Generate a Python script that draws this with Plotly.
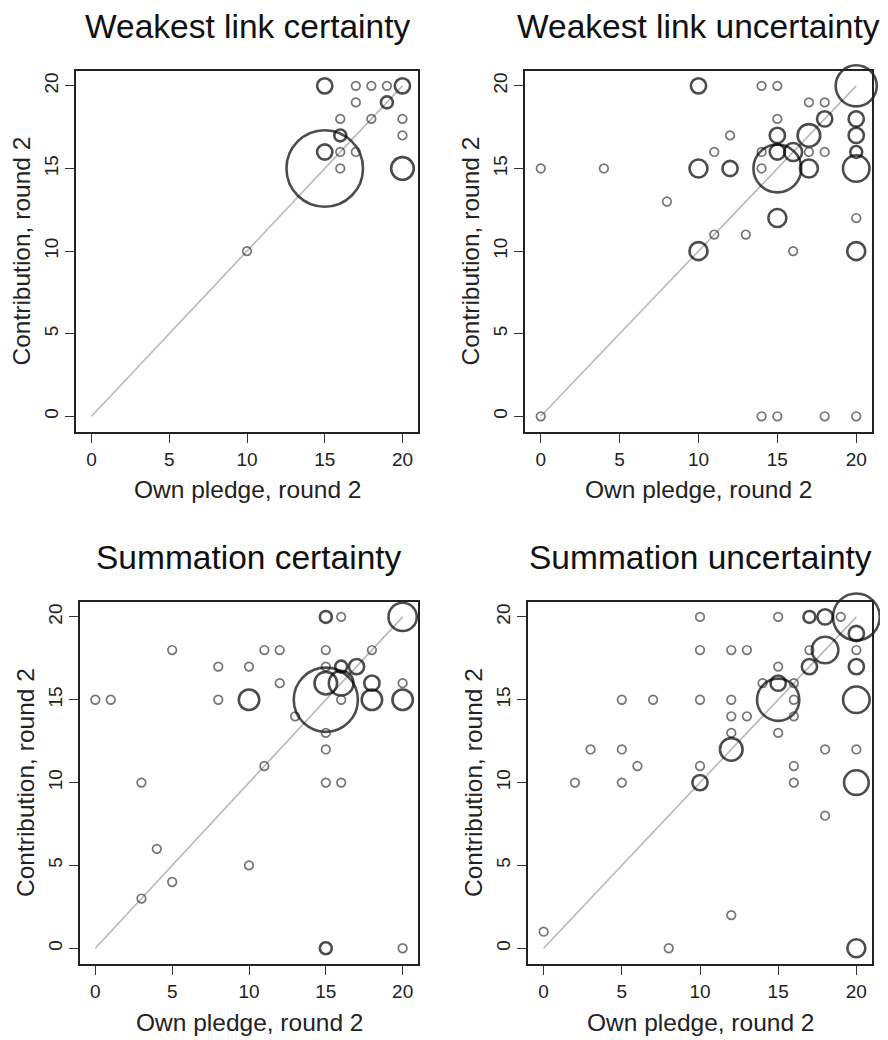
import math
import plotly.graph_objects as go

# Weakest link certainty: own pledge, contribution, number of subjects
wlc_pledge = [10, 15, 15, 15, 16, 16, 16, 16, 17, 17, 17, 18, 18, 19, 19, 20, 20, 20, 20]
wlc_contrib = [10, 20, 16, 15, 18, 17, 16, 15, 20, 19, 16, 20, 18, 20, 19, 20, 18, 17, 15]
wlc_count = [1, 3, 3, 59, 1, 2, 1, 1, 1, 1, 1, 1, 1, 1, 2, 3, 1, 1, 6]

# Weakest link uncertainty
wlu_pledge = [0, 0, 4, 8, 10, 10, 10, 11, 11, 12, 12, 13, 14, 14, 14, 14, 15, 15, 15, 15, 15,
              15, 15, 16, 16, 17, 17, 17, 17, 18, 18, 18, 18, 20, 20, 20, 20, 20, 20, 20, 20]
wlu_contrib = [15, 0, 15, 13, 20, 15, 10, 16, 11, 17, 15, 11, 20, 16, 15, 0, 20, 18, 17, 16, 15,
               12, 0, 16, 10, 19, 17, 16, 15, 19, 18, 16, 0, 20, 18, 17, 16, 15, 12, 10, 0]
wlu_count = [1, 1, 1, 1, 3, 4, 4, 1, 1, 1, 3, 1, 1, 1, 1, 1, 1, 1, 3, 3, 24,
             4, 1, 4, 1, 1, 6, 1, 4, 1, 3, 1, 1, 18, 3, 3, 2, 8, 1, 4, 1]

# Summation certainty
sc_pledge = [0, 1, 3, 3, 4, 5, 5, 8, 8, 10, 10, 10, 11, 11, 12, 12, 13, 15, 15, 15, 15, 15,
             15, 15, 15, 15, 16, 16, 16, 16, 16, 17, 18, 18, 18, 20, 20, 20, 20]
sc_contrib = [15, 15, 10, 3, 6, 18, 4, 17, 15, 17, 15, 5, 18, 11, 18, 16, 14, 20, 18, 17, 16, 15,
              13, 12, 10, 0, 20, 17, 16, 15, 10, 17, 18, 16, 15, 20, 16, 15, 0]
sc_count = [1, 1, 1, 1, 1, 1, 1, 1, 1, 1, 5, 1, 1, 1, 1, 1, 1, 2, 1, 1, 6, 42,
            1, 1, 1, 2, 1, 2, 7, 1, 1, 3, 1, 3, 5, 9, 1, 5, 1]

# Summation uncertainty
su_pledge = [0, 2, 3, 5, 5, 5, 6, 7, 8, 10, 10, 10, 10, 10, 12, 12, 12, 12, 12, 12, 13, 13, 14,
             15, 15, 15, 15, 15, 16, 16, 16, 16, 16, 17, 17, 17, 18, 18, 18, 18, 19,
             20, 20, 20, 20, 20, 20, 20, 20]
su_contrib = [1, 10, 12, 15, 12, 10, 11, 15, 0, 20, 18, 15, 11, 10, 18, 15, 14, 13, 12, 2, 18, 14, 16,
              20, 17, 16, 15, 13, 16, 15, 14, 11, 10, 20, 18, 17, 20, 18, 12, 8, 20,
              20, 19, 18, 17, 15, 12, 10, 0]
su_count = [1, 1, 1, 1, 1, 1, 1, 1, 1, 1, 1, 1, 1, 3, 1, 1, 1, 1, 6, 1, 1, 1, 1,
            1, 1, 3, 19, 1, 1, 1, 1, 1, 1, 2, 1, 3, 3, 8, 1, 1, 1,
            23, 3, 1, 3, 8, 1, 7, 4]

panel_titles = ["Weakest link certainty", "Weakest link uncertainty",
                "Summation certainty", "Summation uncertainty"]
x_title = "Own pledge, round 2"
y_title = "Contribution, round 2"
tick_values = [0, 5, 10, 15, 20]
diagonal = [0, 20]

panels = [
    (wlc_pledge, wlc_contrib, wlc_count),
    (wlu_pledge, wlu_contrib, wlu_count),
    (sc_pledge, sc_contrib, sc_count),
    (su_pledge, su_contrib, su_count),
]

# page body has an 8px margin, so work in window pixels minus that offset
OFF = 8
W, H = 888 - OFF, 1040 - OFF
# plot boxes in window pixels: left, right, top, bottom
boxes = [(76, 418, 71, 432), (525, 872, 71, 432),
         (80, 418, 602, 964), (528, 872, 602, 964)]
FONT = "Liberation Sans, Arial, sans-serif"


def fx(px):
    return (px - OFF) / W


def fy(py):
    return 1 - (py - OFF) / H


fig = go.Figure()
annotations = []
for i, ((px, py, cnt), box) in enumerate(zip(panels, boxes)):
    k = "" if i == 0 else str(i + 1)
    xa, ya = "x" + k, "y" + k
    fig.add_trace(go.Scatter(x=diagonal, y=diagonal, xaxis=xa, yaxis=ya, mode="lines",
                             line=dict(color="#b8b8b8", width=1.6), hoverinfo="skip"))
    # circle area grows with the number of subjects; heavier stroke for n > 1
    lw = [1.7 if c == 1 else 2.6 for c in cnt]
    fig.add_trace(go.Scatter(
        x=px, y=py, xaxis=xa, yaxis=ya, mode="markers", cliponaxis=False,
        text=[str(c) for c in cnt],
        hovertemplate="pledge %{x}<br>contribution %{y}<br>n = %{text}<extra></extra>",
        marker=dict(symbol="circle-open",
                    size=[10.3 * math.sqrt(c) - w for c, w in zip(cnt, lw)],
                    color=["#3a3a3a" if c == 1 else "#000000" for c in cnt],
                    line=dict(width=lw))))

    l, r, t, b = box
    axis_common = dict(showline=True, mirror=True, linecolor="#222", linewidth=1.7,
                       ticks="outside", ticklen=9, tickwidth=1.3, tickcolor="#333",
                       tickvals=tick_values, showgrid=False, zeroline=False,
                       tickfont=dict(family=FONT, size=19, color="#222"), fixedrange=True)
    fig.layout["xaxis" + k] = dict(axis_common, domain=[fx(l), fx(r)], range=[-1, 21],
                                   anchor=ya)
    fig.layout["yaxis" + k] = dict(axis_common, domain=[fy(b), fy(t)],
                                   range=[-0.95, 20.9], anchor=xa, tickangle=-90)

    cx = fx((l + r) / 2)
    cy = fy((t + b) / 2)
    common = dict(xref="paper", yref="paper", showarrow=False,
                  xanchor="center", yanchor="middle")
    annotations.append(dict(common, text=panel_titles[i], x=cx, y=fy(t - 45),
                            font=dict(family=FONT, size=33.5, color="#111")))
    annotations.append(dict(common, text=x_title, x=cx, y=fy(b + 58),
                            font=dict(family=FONT, size=24.5, color="#222")))
    annotations.append(dict(common, text=y_title, x=fx(l - 55), y=cy, textangle=-90,
                            font=dict(family=FONT, size=24.5, color="#222")))

fig.update_layout(width=W, height=H, margin=dict(l=0, r=0, t=0, b=0),
                  paper_bgcolor="white", plot_bgcolor="white", showlegend=False,
                  annotations=annotations)

fig.write_html("out.html")
